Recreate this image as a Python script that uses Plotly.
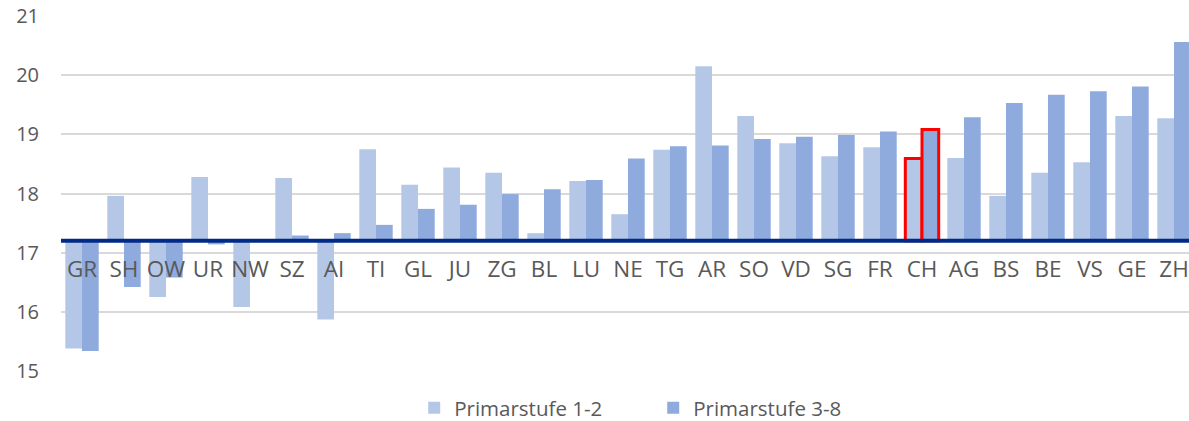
import plotly.graph_objects as go

categories = ["GR", "SH", "OW", "UR", "NW", "SZ", "AI", "TI", "GL", "JU", "ZG", "BL", "LU", "NE",
              "TG", "AR", "SO", "VD", "SG", "FR", "CH", "AG", "BS", "BE", "VS", "GE", "ZH"]
primar_1_2 = [15.38, 17.96, 16.25, 18.28, 16.08, 18.26, 15.87, 18.75, 18.15, 18.44, 18.35, 17.33, 18.21, 17.65,
              18.74, 20.15, 19.31, 18.85, 18.63, 18.78, 18.59, 18.60, 17.96, 18.35, 18.53, 19.31, 19.27]
primar_3_8 = [15.34, 16.42, 16.58, 17.14, 17.20, 17.29, 17.33, 17.47, 17.74, 17.81, 17.99, 18.07, 18.23, 18.59,
              18.80, 18.81, 18.92, 18.96, 18.99, 19.05, 19.08, 19.29, 19.53, 19.67, 19.73, 19.81, 20.56]
baseline = 17.2
highlight = "CH"

FONT = "Open Sans"
GREY = "#595959"

def outline_colors():
    return ["#FF0000" if c == highlight else "rgba(0,0,0,0)" for c in categories]

def outline_widths():
    return [3 if c == highlight else 0 for c in categories]

fig = go.Figure()
fig.add_trace(go.Bar(
    name="Primarstufe 1-2", x=categories, y=[v - baseline for v in primar_1_2], base=baseline,
    marker=dict(color="#B4C7E7", line=dict(color=outline_colors(), width=outline_widths())),
))
fig.add_trace(go.Bar(
    name="Primarstufe 3-8", x=categories, y=[v - baseline for v in primar_3_8], base=baseline,
    marker=dict(color="#8FAADC", line=dict(color=outline_colors(), width=outline_widths())),
))

fig.add_shape(type="line", xref="paper", x0=0, x1=1, yref="y", y0=baseline, y1=baseline,
              line=dict(color="#002A86", width=4), layer="above")

fig.update_layout(
    width=1189, height=421,
    margin=dict(l=61, r=0, t=16, b=50, autoexpand=False),
    paper_bgcolor="white", plot_bgcolor="white",
    barmode="group", bargap=0.205, bargroupgap=0,
    font=dict(family=FONT, color=GREY),
    showlegend=True,
    legend=dict(orientation="h", x=0.525, xanchor="center", y=-0.104, yanchor="middle",
                bgcolor="rgba(0,0,0,0)",
                font=dict(size=20.5, color=GREY, family=FONT),
                entrywidth=194, entrywidthmode="pixels"),
    xaxis=dict(type="category", range=[-0.5, 26.357], showgrid=False, zeroline=False, showline=False,
               anchor="free", position=(baseline - 15) / 6, ticks="", ticklabelstandoff=13,
               automargin=False, tickfont=dict(size=22.5, color=GREY, family=FONT)),
    yaxis=dict(range=[15, 21], dtick=1, showgrid=True, gridcolor="#D9D9D9", gridwidth=1.5,
               zeroline=False, showline=False, ticks="", ticklabelstandoff=21, automargin=False,
               tickfont=dict(size=20, color=GREY, family=FONT)),
)

fig.write_html("out.html", config={"displayModeBar": False},
               post_script="document.body.style.margin='0';")
